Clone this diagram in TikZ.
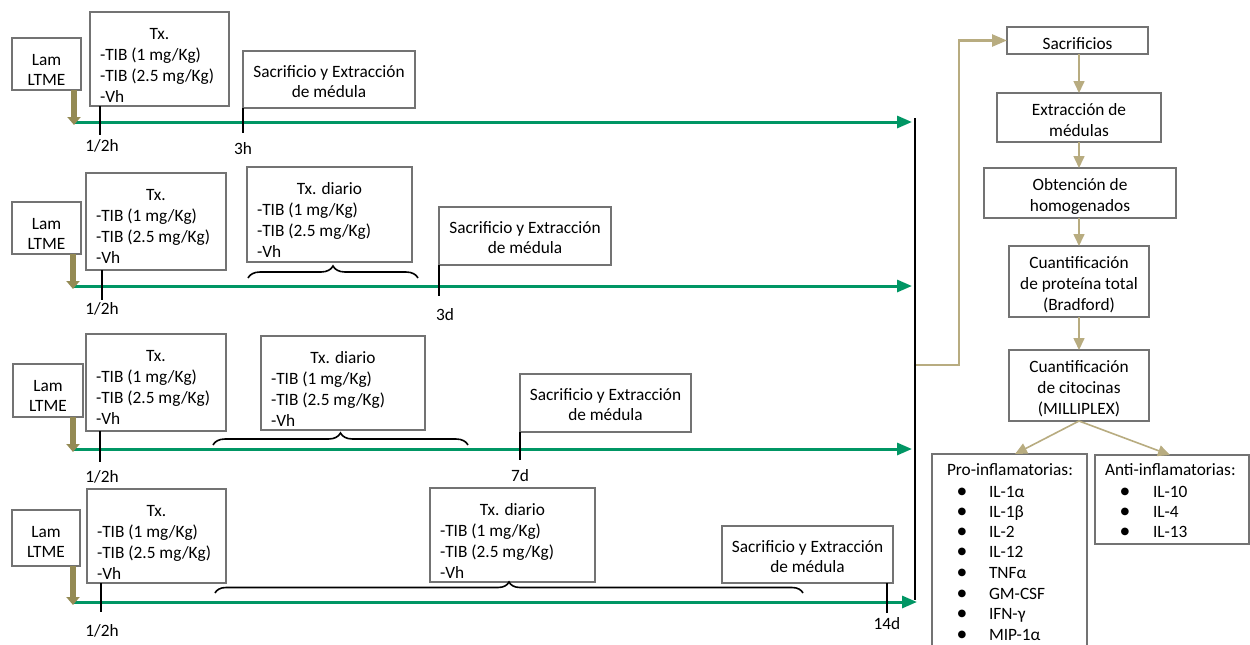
\documentclass[tikz,border=0pt]{standalone}
\usepackage{fontspec}
\setmainfont{Carlito}
\newfontfamily\djvfont{DejaVu Sans}
\usetikzlibrary{arrows.meta,decorations.pathreplacing,calc}
\definecolor{boxgray}{RGB}{115,115,115}
\definecolor{tlgreen}{RGB}{0,150,100}
\definecolor{khakidark}{RGB}{148,138,84}
\definecolor{khakilight}{RGB}{184,172,128}
\tikzset{
  box/.style={draw=boxgray, line width=1.2pt, fill=white, inner sep=0pt, outer sep=0pt},
  txt/.style={font=\fontsize{17.3}{21}\selectfont, inner sep=0pt, outer sep=0pt, yshift=-3pt},
  ctxt/.style={txt, align=center},
  bul/.style={font=\djvfont\fontsize{10}{12}\selectfont, inner sep=0pt, outer sep=0pt, anchor=center},
  tickline/.style={draw=black, line width=1.1pt},
  timeline/.style={draw=tlgreen, line width=3pt, -{Triangle[length=15pt,width=12pt]}},
  lamarrow/.style={draw=khakidark, line width=6pt, -{Triangle[length=8pt,width=13pt]}},
  brc/.style={draw=black, decorate, decoration={brace, amplitude=#1}, line width=1.6pt},
  flow/.style={draw=khakilight, line width=1.6pt, -{Triangle[length=12pt,width=11pt]}},
}
\newcommand\rectnode[5]{\node[box, minimum width={#4-#2}, minimum height={#5-#3}] (#1) at ({(#2+#4)/2},{(#3+#5)/2}) {};}
\newcommand\lambox[5]{\rectnode{#1}{#2}{#3}{#4}{#5}
  \node[txt,anchor=mid] (#1-a) at ({(#2+#4)/2},{#3+22}) {Lam};
  \node[txt,anchor=mid] (#1-b) at ({(#2+#4)/2},{#3+42}) {LTME};}
\newcommand\txbox[6]{\rectnode{#1}{#2}{#3}{#4}{#5}
  \node[txt,anchor=mid] (#1-t) at ({(#2+#4)/2},{#3+22}) {#6};
  \node[txt,anchor=mid west] (#1-a) at ({#2+10},{#3+43}) {-TIB (1 mg/Kg)};
  \node[txt,anchor=mid west] (#1-b) at ({#2+10},{#3+64}) {-TIB (2.5 mg/Kg)};
  \node[txt,anchor=mid west] (#1-c) at ({#2+10},{#3+85}) {-Vh};}
\newcommand\sacbox[5]{\rectnode{#1}{#2}{#3}{#4}{#5}
  \node[txt,anchor=mid] (#1-a) at ({(#2+#4)/2},{#3+21}) {Sacrificio y Extracción};
  \node[txt,anchor=mid] (#1-b) at ({(#2+#4)/2},{#3+41}) {de médula};}
\begin{document}
\begin{tikzpicture}[x=1pt,y=-1pt]
\useasboundingbox[fill=white] (0,0) rectangle (1250,645);

% ---------- Row 1 ----------
\coordinate (g1s) at (73,122);
\coordinate (g1e) at (912,122);
\draw[timeline] (g1s) -- (g1e);
\lambox{lam1}{12}{38}{81}{90}
\draw[lamarrow] (lam1.south -| 74,0) -- (74,125);
\txbox{tx1}{90}{12}{229}{106}{Tx.}
\sacbox{sac1}{243}{51}{415}{108}
\coordinate (k1a) at (100,135);
\coordinate (k1b) at (243,133);
\draw[tickline] (tx1.south -| k1a) -- (k1a);
\draw[tickline] (sac1.south west) -- (k1b);
\node[txt,anchor=mid] (l1a) at (102,146) {1/2h};
\node[txt,anchor=mid] (l1b) at (243,149) {3h};

% ---------- Row 2 ----------
\coordinate (g2s) at (72,286);
\coordinate (g2e) at (912,286);
\draw[timeline] (g2s) -- (g2e);
\lambox{lam2}{12}{202}{81}{254}
\draw[lamarrow] (lam2.south -| 73,0) -- (73,289);
\txbox{tx2}{86}{173}{226}{270}{Tx.}
\txbox{txd2}{247}{167}{412}{262}{Tx. diario}
\sacbox{sac2}{439}{207}{611}{265}
\coordinate (b2a) at (248,278);
\coordinate (b2b) at (418,278);
\draw[brc=12pt] (b2a) -- (b2b);
\coordinate (k2a) at (102,300);
\coordinate (k2b) at (439,296);
\draw[tickline] (tx2.south -| k2a) -- (k2a);
\draw[tickline] (sac2.south west) -- (k2b);
\node[txt,anchor=mid] (l2a) at (102,309) {1/2h};
\node[txt,anchor=mid] (l2b) at (445,315) {3d};

% ---------- Row 3 ----------
\coordinate (g3s) at (72,449);
\coordinate (g3e) at (912,449);
\draw[timeline] (g3s) -- (g3e);
\lambox{lam3}{13}{364}{83}{417}
\draw[lamarrow] (lam3.south -| 73,0) -- (73,452);
\txbox{tx3}{86}{334}{226}{431}{Tx.}
\txbox{txd3}{261}{336}{425}{430}{Tx. diario}
\sacbox{sac3}{520}{374}{691}{432}
\coordinate (b3a) at (213,445);
\coordinate (b3b) at (468,445);
\draw[brc=12pt] (b3a) -- (b3b);
\coordinate (k3a) at (100,462);
\coordinate (k3b) at (520,460);
\draw[tickline] (tx3.south -| k3a) -- (k3a);
\draw[tickline] (sac3.south west) -- (k3b);
\node[txt,anchor=mid] (l3a) at (102,477) {1/2h};
\node[txt,anchor=mid] (l3b) at (520,476) {7d};

% ---------- Row 4 ----------
\coordinate (g4s) at (72,602);
\coordinate (g4e) at (917,602);
\draw[timeline] (g4s) -- (g4e);
\lambox{lam4}{12}{510}{80}{566}
\draw[lamarrow] (lam4.south -| 73,0) -- (73,605);
\txbox{tx4}{87}{489}{226}{583}{Tx.}
\txbox{txd4}{430}{488}{595}{582}{Tx. diario}
\sacbox{sac4}{722}{526}{893}{583}
\coordinate (b4a) at (215,593);
\coordinate (b4b) at (803,593);
\draw[brc=11pt] (b4a) -- (b4b);
\coordinate (k4a) at (101,612);
\coordinate (k4b) at (887,613);
\draw[tickline] (tx4.south -| k4a) -- (k4a);
\draw[tickline] (sac4.south -| k4b) -- (k4b);
\node[txt,anchor=mid] (l4a) at (102,631) {1/2h};
\node[txt,anchor=mid] (l4b) at (887,624) {14d};

% ---------- Black collector ----------
\coordinate (blt) at (915,118);
\coordinate (blb) at (915,600);
\coordinate (jn) at (916,365);
\draw[black, line width=2.8pt] (blt) -- (blb);

% ---------- Flowchart ----------
\rectnode{sacr}{1007}{27}{1148}{54}
\node[ctxt] (sacr-t) at (sacr) {Sacrificios};
\rectnode{extr}{997}{93}{1161}{142}
\node[ctxt] (extr-t) at (extr) {Extracción de\\médulas};
\rectnode{obt}{984}{168}{1176}{218}
\node[ctxt] (obt-t) at (obt) {Obtención de\\homogenados};
\rectnode{cuap}{1009}{246}{1149}{317}
\node[ctxt] (cuap-t) at (cuap) {Cuantificación\\de proteína total\\(Bradford)};
\rectnode{cuac}{1009}{350}{1149}{421}
\node[ctxt] (cuac-t) at (cuac) {Cuantificación\\de citocinas\\(MILLIPLEX)};
\rectnode{pro}{932}{454}{1087}{660}
\rectnode{anti}{1095}{455}{1249}{544}

\draw[draw=khakilight, line width=2.5pt, -{Triangle[length=15pt,width=12pt]}] (jn) -- ++(43,0) |- (sacr.west);

\coordinate (ax) at (1079,0);
\draw[flow] (sacr.south -| ax) -- (extr.north -| ax);
\draw[flow] (extr.south -| ax) -- (obt.north -| ax);
\draw[flow] (obt.south -| ax) -- (cuap.north -| ax);
\draw[flow] (cuap.south -| ax) -- (cuac.north -| ax);
\coordinate (protip) at (1015,0);
\coordinate (antitip) at (1170,0);
\draw[flow] (cuac.south) -- (pro.north -| protip);
\draw[flow] (cuac.south) -- (anti.north -| antitip);

% Pro list
\node[txt,anchor=mid west] (proT) at (947,470) {Pro-inflamatorias:};
\foreach \yy/\lab [count=\i] in {492/IL-1α, 512/IL-1β, 532/IL-2, 552/IL-12, 573/TNFα, 594/GM-CSF, 614/IFN-γ, 635/MIP-1α}{
  \node[bul] (pb\i) at (962,\yy) {●};
  \node[txt,anchor=mid west] (pi\i) at (989,\yy) {\lab};
}
% Anti list
\node[txt,anchor=mid west] (antiT) at (1105,470) {Anti-inflamatorias:};
\foreach \yy/\lab [count=\i] in {492/IL-10, 512/IL-4, 532/IL-13}{
  \node[bul] (ab\i) at (1125,\yy) {●};
  \node[txt,anchor=mid west] (ai\i) at (1153,\yy) {\lab};
}
\end{tikzpicture}
\end{document}
